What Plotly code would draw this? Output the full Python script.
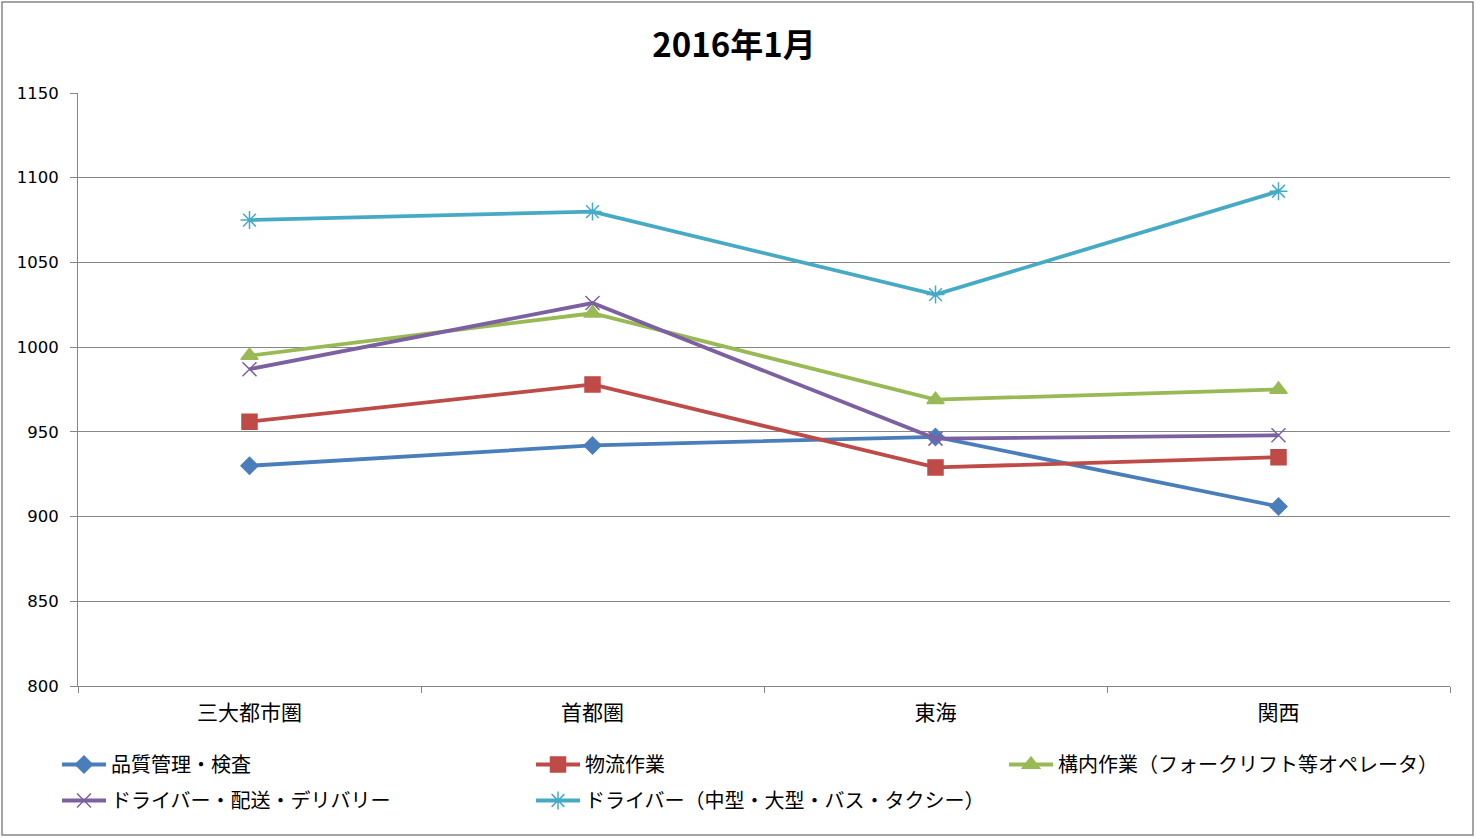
import plotly.graph_objects as go

categories = ["三大都市圏", "首都圏", "東海", "関西"]
series_names = [
    "品質管理・検査",
    "物流作業",
    "構内作業（フォークリフト等オペレータ）",
    "ドライバー・配送・デリバリー",
    "ドライバー（中型・大型・バス・タクシー）",
]
hinshitsu = [930, 942, 947, 906]
butsuryu = [956, 978, 929, 935]
kounai = [995, 1020, 969, 975]
driver_haisou = [987, 1026, 946, 948]
driver_chugata = [1075, 1080, 1031, 1092]
y_ticks = [800, 850, 900, 950, 1000, 1050, 1100, 1150]

values = [hinshitsu, butsuryu, kounai, driver_haisou, driver_chugata]
colors = ["#4A7EBB", "#BE4B48", "#98B954", "#7D60A0", "#46AAC5"]
symbols = ["diamond", "square", "triangle-up", "x-thin-open", "asterisk-open"]
sizes = [13, 15, 15, 14, 15]
legend_ids = ["legend", "legend2", "legend3", "legend", "legend2"]

W, H = 1476, 838
L, R, T, B = 78, 26, 93, 152
pw, ph = W - L - R, H - T - B

font_family = "Noto Sans CJK JP, Noto Sans, sans-serif"

fig = go.Figure()
for i, (name, vals, c, s, sz, lg) in enumerate(
        zip(series_names, values, colors, symbols, sizes, legend_ids)):
    fig.add_trace(go.Scatter(
        x=categories, y=vals, name=name, mode="lines+markers",
        legend=lg, legendgroup=f"g{i}",
        line=dict(color=c, width=3.8),
        marker=dict(symbol=s, size=sz, color=c, line=dict(color=c, width=1.5)),
    ))

legend_y = -(745 - (T + ph)) / ph
legend_common = dict(orientation="v", xanchor="left", y=legend_y, yanchor="top",
                     font=dict(size=20, family=font_family), tracegroupgap=7,
                     itemwidth=44, bgcolor="rgba(0,0,0,0)")

fig.update_layout(
    width=W, height=H,
    margin=dict(l=L, r=R, t=T, b=B),
    paper_bgcolor="white", plot_bgcolor="white",
    font=dict(family=font_family, color="black"),
    title=dict(text="<b>2016年1月</b>", x=734 / W, xanchor="center", y=1 - 45 / H,
               yanchor="middle", font=dict(size=33, family=font_family)),
    showlegend=True,
    legend=dict(x=(57 - L) / pw, **legend_common),
    legend2=dict(x=(531 - L) / pw, **legend_common),
    legend3=dict(x=(1004 - L) / pw, **legend_common),
    xaxis=dict(type="category", range=[-0.5, 3.5], tickson="boundaries",
               ticks="outside", ticklen=6, tickcolor="#868686",
               showline=True, linecolor="#868686", linewidth=1,
               showgrid=False, tickfont=dict(size=21), fixedrange=True,
               ticklabelstandoff=8),
    yaxis=dict(range=[800, 1150], tickvals=y_ticks, ticks="outside", ticklen=7,
               tickcolor="#868686", showline=True, linecolor="#868686",
               linewidth=1, showgrid=True, gridcolor="#868686", gridwidth=1,
               zeroline=False, tickfont=dict(size=16.5, family="DejaVu Sans"),
               ticklabelstandoff=8),
)

fig.add_shape(type="rect", xref="paper", yref="paper",
              x0=(2 - L) / pw, x1=(W - 3 - L) / pw,
              y0=-(H - 3 - T - ph) / ph, y1=1 + (T - 2) / ph,
              line=dict(color="#868686", width=1.5), layer="below")

fig.write_html("out.html", config={"displayModeBar": False},
               post_script="document.body.style.margin='0';document.body.style.overflow='hidden';")
